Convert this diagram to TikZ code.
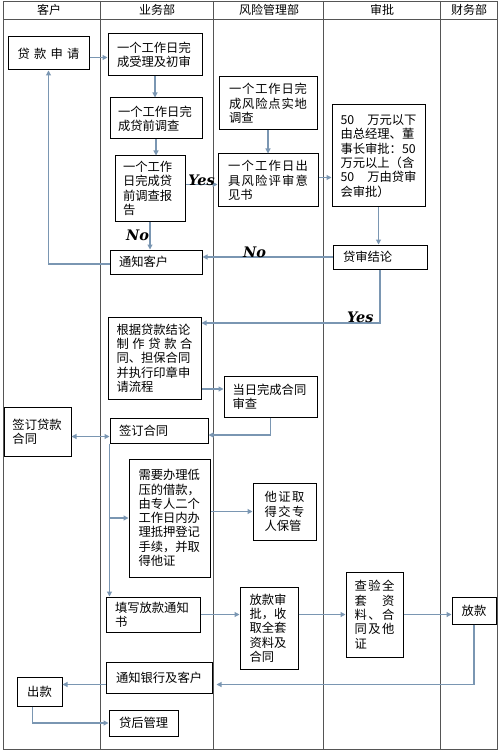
\documentclass[tikz,border=0pt]{standalone}
\usepackage{fontspec}
\setmainfont{Noto Sans CJK SC}
\newfontfamily\decfont{DejaVu Serif}
\usetikzlibrary{arrows.meta}
\definecolor{flowblue}{RGB}{122,150,178}
\definecolor{lanegray}{RGB}{85,85,85}
\newcommand{\wideline}[2]{\makebox[#1][s]{#2}}
\tikzset {
  flow path/.style = {
    draw = flowblue,
    line width = 1.1pt
  },
  % path style with an arrow at the end
  arr/.style = {
    flow path,
    -{Triangle[length=5pt,width=5pt]}
  },
  % arrows at both ends
  darr/.style = {
    flow path,
    {Triangle[length=5pt,width=5pt]}-{Triangle[length=5pt,width=5pt]}
  },
  lane/.style = {
    draw = lanegray,
    line width = 0.9pt
  }
}
\tikzset {
  % process box
  proc/.style = {
    draw = black,
    line width = 1pt,
    rectangle,
    inner sep = 1pt,
    align = left,
    font = \fontsize{12.3}{14.3}\selectfont
  },
  % lane title
  lane label/.style = {
    font = \fontsize{12}{14}\selectfont
  },
  % yes / no label
  decision/.style = {
    font = \decfont\bfseries\itshape\fontsize{14.5}{16}\selectfont,
    inner sep = 0.5pt
  }
}
\begin{document}
\begin{tikzpicture}[x=1pt, y=-1pt]
    \useasboundingbox (0,0) rectangle (500,751);

    % lanes
    \draw[lane] (3,1) rectangle (497,749);
    \draw[lane] (3,19) -- (497,19);
    \foreach \x in {100,213,323,440}
      \draw[lane] (\x,1) -- (\x,749);

    \node[lane label] (client lane) at (49,10) {客户};
    \node[lane label] (business lane) at (157,10) {业务部};
    \node[lane label] (risk lane) at (269,10) {风险管理部};
    \node[lane label] (approval lane) at (382,10) {审批};
    \node[lane label] (finance lane) at (469,10) {财务部};

    % first part
    \node[proc, minimum width=81pt, minimum height=33pt, text width=62pt, align=center] (apply) at (48.5,53.5)
      {\wideline{62pt}{贷\hfill 款\hfill 申\hfill 请}};
    \node[proc, minimum width=94pt, minimum height=42pt, text width=76pt] (accept) at (155,55)
      {一个工作日完\\成受理及初审};
    \node[proc, minimum width=92pt, minimum height=41pt, text width=76pt] (survey) at (156,118.5)
      {一个工作日完\\成贷前调查};
    \node[proc, minimum width=98pt, minimum height=53pt, text width=78pt] (risk visit) at (268,103.5)
      {\wideline{78pt}{一\hfill 个\hfill 工\hfill 作\hfill 日\hfill 完}\\\wideline{78pt}{成\hfill 风\hfill 险\hfill 点\hfill 实\hfill 地}\\调查};
    \node[proc, minimum width=93pt, minimum height=102pt, text width=76pt] (approve) at (378.5,156)
      {\wideline{76pt}{50\hfill 万元以下}\\由总经理、董\\事长审批：50\\万元以上（含\\\wideline{76pt}{50\hfill 万由贷审}\\会审批）};
    \node[proc, minimum width=70pt, minimum height=65pt, text width=54pt] (report) at (150,188.5)
      {一个工作\\日完成贷\\前调查报\\告};
    \node[proc, minimum width=100pt, minimum height=53pt, text width=80pt] (opinion) at (268,180.5)
      {\wideline{80pt}{一\hfill 个\hfill 工\hfill 作\hfill 日\hfill 出}\\\wideline{80pt}{具\hfill 风\hfill 险\hfill 评\hfill 审\hfill 意}\\见书};
    \node[proc, minimum width=92pt, minimum height=24pt, text width=74pt] (notify) at (156,262)
      {通知客户};
    \node[proc, minimum width=94pt, minimum height=24pt, text width=74pt] (verdict) at (380,257)
      {贷审结论};

    % contract part
    \node[proc, minimum width=93pt, minimum height=82pt, text width=76pt] (draft) at (154.5,358)
      {根据贷款结论\\\wideline{76pt}{制\hfill 作\hfill 贷\hfill 款\hfill 合}\\同、担保合同\\并执行印章申\\请流程};
    \node[proc, minimum width=93pt, minimum height=41pt, text width=76pt] (review) at (270.5,396.5)
      {当日完成合同\\审查};
    \node[proc, minimum width=67pt, minimum height=49pt, text width=50pt] (client sign) at (37.5,431.5)
      {签订贷款\\合同};
    \node[proc, minimum width=98pt, minimum height=25pt, text width=80pt] (sign) at (159,430.5)
      {签订合同};
    \node[proc, minimum width=81pt, minimum height=118pt, text width=62pt] (mortgage) at (169.5,518)
      {需要办理低\\压的借款，\\由专人二个\\工作日内办\\理抵押登记\\手续，并取\\得他证};
    \node[proc, minimum width=63pt, minimum height=57pt, text width=40pt] (cert) at (284.5,511.5)
      {\wideline{40pt}{他\hfill 证\hfill 取}\\\wideline{40pt}{得\hfill 交\hfill 专}\\人保管};

    % loan part
    \node[proc, minimum width=94pt, minimum height=35pt, text width=76pt] (fill) at (153,614.5)
      {填写放款通知\\书};
    \node[proc, minimum width=58pt, minimum height=82pt, text width=39pt] (loan ok) at (269,628)
      {放款审\\批，收\\取全套\\资料及\\合同};
    \node[proc, minimum width=57pt, minimum height=85pt, text width=40pt] (check) at (374.5,614.5)
      {\wideline{40pt}{查\hfill 验\hfill 全}\\\wideline{40pt}{套\hfill 资}\\\wideline{40pt}{料\hfill 、\hfill 合}\\\wideline{40pt}{同\hfill 及\hfill 他}\\证};
    \node[proc, minimum width=44pt, minimum height=27pt, text width=30pt, align=center] (pay) at (474,610.5)
      {放款};
    \node[proc, minimum width=106pt, minimum height=31pt, text width=86pt] (bank) at (159,677.5)
      {通知银行及客户};
    \node[proc, minimum width=45pt, minimum height=29pt, text width=30pt, align=center] (payout) at (39.5,691.5)
      {出款};
    \node[proc, minimum width=69pt, minimum height=26pt, text width=49pt] (after) at (143.5,723)
      {贷后管理};

    \coordinate (apply out) at ([yshift=-4pt]apply.east);
    \coordinate (report out) at ([yshift=4pt]report.east);
    \coordinate (opinion out) at ([yshift=3pt]opinion.east);
    \coordinate (draft out) at ([yshift=-31pt]draft.east);
    \coordinate (client sign out) at ([yshift=-5pt]client sign.east);
    \coordinate (bank out) at ([yshift=-7pt]bank.west);

    % main line
    \draw[arr] (apply out) -- (apply out -| accept.west);
    \draw[arr] (accept.south) -- (accept.south |- survey.north);
    \draw[arr] (survey.south) -- (survey.south |- report.north);
    \draw[arr] (risk visit.south) -- (risk visit.south |- opinion.north);
    \draw[arr] (report out) -- (report out -| opinion.west)
      node[decision, midway, above=-2pt] {Yes};
    \draw[arr] (opinion out) -- (opinion out -| approve.west);
    \draw[arr] (approve.south) -- (approve.south |- verdict.north);
    \draw[arr] (report.south) -- (report.south |- notify.north)
      node[decision, midway, left=0pt] {No};
    \draw[arr] (verdict.west) -- (verdict.west -| notify.east)
      node[decision, pos=0.6, above=-2pt] {No};

    % back to the client
    \draw[arr] ([yshift=-2pt]notify.west) -| (apply.south);

    % contract
    \draw[arr] (verdict.south) |- ([yshift=35pt]draft.east)
      node[decision, pos=0.555, above=-1pt] {Yes};
    \draw[arr] (draft out) -- (draft out -| review.west);
    \draw[arr] (review.south) |- ([yshift=-4.5pt]sign.east);
    \draw[darr] (client sign out) -- (client sign out -| sign.west);

    % side rail
    \draw[arr] (sign.south west) -- (sign.south west |- fill.north);
    \draw[arr] (sign.south west |- mortgage.west) -- (mortgage.west);
    \draw[arr] (mortgage.east |- cert.west) -- (cert.west);

    % loan
    \draw[arr] (fill.east) -- (fill.east -| loan ok.west);
    \draw[arr] (loan ok.east |- fill.east) -- (check.west |- fill.east);
    \draw[arr] (check.east) -- (check.east -| pay.west);
    \draw[arr, shorten >=4pt] (pay.south) |- ([yshift=-7pt]bank.east);
    \draw[arr] (bank out) -- (bank out -| payout.east);
    \draw[arr] ([xshift=-7pt]payout.south) |- (after.west);
\end{tikzpicture}
\end{document}
